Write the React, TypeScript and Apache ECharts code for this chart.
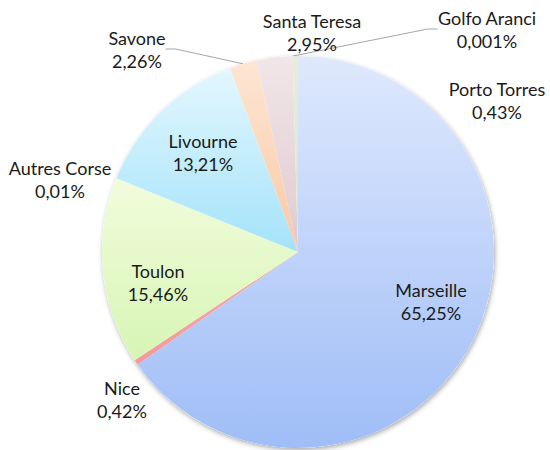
import React, { useEffect, useRef } from "react";
import * as echarts from "echarts";

const categories = [
  "Marseille",
  "Nice",
  "Toulon",
  "Autres Corse",
  "Livourne",
  "Savone",
  "Santa Teresa",
  "Golfo Aranci",
  "Porto Torres",
];
const shares = [65.25, 0.42, 15.46, 0.01, 13.21, 2.26, 2.95, 0.001, 0.43];

// gradient colour stops (top, bottom) per slice
const colorTop = ["#dfe9fd", "#f6aaaa", "#f1fcdc", "#cdbde8", "#e3f7fe", "#fde6d4", "#f1e6e8", "#eef2e6", "#e6eedb"];
const colorBottom = ["#9fbdf7", "#f29b9b", "#d7f5b4", "#c0ade0", "#a4e3fb", "#fbc8a4", "#dfcace", "#dde6d2", "#d8e3ca"];

// label block centres [x, y] and whether a leader line is shown
const labelCenters: [number, number][] = [
  [431, 301],
  [122, 399],
  [158, 282],
  [60, 179],
  [203, 152],
  [137, 49],
  [312, 32],
  [487, 29],
  [497, 100],
];
const showLine = [false, false, false, false, false, true, false, true, false];

const fmt = (v: number) => String(v).replace(".", ",");

export default function App() {
  const ref = useRef<HTMLDivElement>(null);
  useEffect(() => {
    document.body.style.margin = "0";
    if (!ref.current) return;
    const chart = echarts.init(ref.current, undefined, { renderer: "svg" });
    const center = [298, 252];
    const radius = 196;
    chart.setOption({
      animation: false,
      backgroundColor: "#ffffff",
      textStyle: { fontFamily: "Lato" },
      series: [
        {
          type: "pie",
          silent: true,
          center,
          radius,
          z: 1,
          label: { show: false },
          labelLine: { show: false },
          itemStyle: {
            color: "#ffffff",
            shadowBlur: 5,
            shadowOffsetX: 1,
            shadowOffsetY: 2,
            shadowColor: "rgba(0,0,0,0.35)",
          },
          data: [{ value: 1, name: "shadow" }],
        },
        {
          type: "pie",
          center,
          radius,
          z: 2,
          startAngle: 90,
          clockwise: true,
          avoidLabelOverlap: false,
          itemStyle: { borderWidth: 0 },
          label: {
            show: true,
            color: "#1a1a1a",
            fontFamily: "Lato",
            fontSize: 18,
            lineHeight: 23,
            align: "center",
            overflow: "none",
            formatter: (p: any) => `${p.name}\n${fmt(p.value)}%`,
          },
          labelLine: {
            show: true,
            length: 10,
            length2: 10,
            lineStyle: { color: "#a6a6a6", width: 1 },
          },
          labelLayout: (p: any) => {
            const c = labelCenters[p.dataIndex];
            return {
              x: c[0],
              y: c[1],
              align: "center",
              verticalAlign: "middle",
            };
          },
          data: categories.map((name, i) => ({
            name,
            value: shares[i],
            labelLine: { show: showLine[i] },
            itemStyle: {
              color: new echarts.graphic.LinearGradient(0, 0, 0, 1, [
                { offset: 0, color: colorTop[i] },
                { offset: 1, color: colorBottom[i] },
              ]),
            },
          })),
        },
      ],
    });
    return () => chart.dispose();
  }, []);
  return <div ref={ref} style={{ width: 550, height: 450 }} />;
}
